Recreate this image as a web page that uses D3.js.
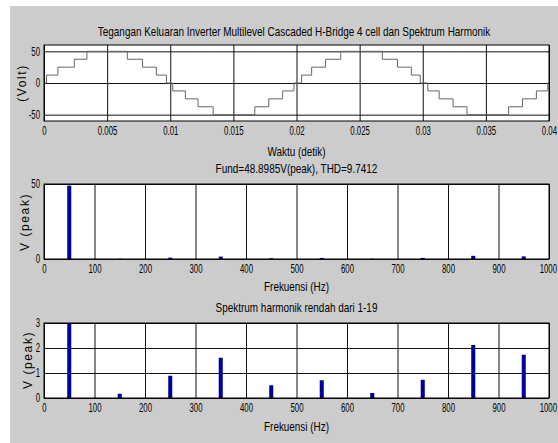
<!DOCTYPE html>
<html>
<head>
<meta charset="utf-8">
<script src="https://cdn.jsdelivr.net/npm/d3@7"></script>
<style>
  body { margin: 0; background: #fff; }
  svg { display: block; }
  text { font-family: "Liberation Sans", Arial, sans-serif; fill: #000; }
  .ylab { font-size: 12px; letter-spacing: 1.6px; }
  .ttl { font-size: 13px; }
</style>
</head>
<body>
<div id="chart"></div>
<script>
// output voltage of the 4-cell cascaded H-bridge (step corners)
const WAVE_TIME = [0, 0.0002, 0.0011, 0.0024, 0.0034, 0.0066, 0.0078, 0.0089, 0.0097,
  0.0102, 0.0112, 0.0122, 0.0134, 0.0167, 0.0178, 0.0189, 0.0198,
  0.0204, 0.0212, 0.0223, 0.0235, 0.0268, 0.0280, 0.0291, 0.0298,
  0.0304, 0.0313, 0.0324, 0.0335, 0.0368, 0.0379, 0.0390, 0.0399, 0.04];
const WAVE_VOLT = [0, 12.5, 25, 37.5, 50, 37.5, 25, 12.5, 0,
  -12.5, -25, -37.5, -50, -37.5, -25, -12.5, 0,
  12.5, 25, 37.5, 50, 37.5, 25, 12.5, 0,
  -12.5, -25, -37.5, -50, -37.5, -25, -12.5, 0, 0];
const TIME_TICKS = [0, 0.005, 0.01, 0.015, 0.02, 0.025, 0.03, 0.035, 0.04];
const VOLT_TICKS = [-50, 0, 50];

// harmonic spectrum
const HARM_FREQ = [50, 150, 250, 350, 450, 550, 650, 750, 850, 950];
const HARM_AMP = [48.8985, 0.17, 0.89, 1.61, 0.51, 0.71, 0.2, 0.73, 2.12, 1.73];
const FREQ_TICKS = [0, 100, 200, 300, 400, 500, 600, 700, 800, 900, 1000];
const SPEC_TICKS = [0, 50];
const LOW_TICKS = [0, 1, 2, 3];

const W = 558, H = 443;
const LEFT = 44, RIGHT = 549;
const NARROW = 0.65; // the original tick font is a condensed one

const svg = d3.select("#chart").append("svg").attr("width", W).attr("height", H);
svg.append("rect").attr("x", 10).attr("y", 6).attr("width", W - 10).attr("height", H - 6).attr("fill", "#cccccc");

const x = d3.scaleLinear().domain([0, 0.04]).range([LEFT, RIGHT]);
const xf = d3.scaleLinear().domain([0, 1000]).range([LEFT, RIGHT]);

function panel(id, top, bottom, xs, ydom, xticks, yticks) {
  const y = d3.scaleLinear().domain(ydom).range([bottom, top]);
  const g = svg.append("g");
  g.append("rect").attr("x", LEFT).attr("y", top).attr("width", RIGHT - LEFT).attr("height", bottom - top).attr("fill", "#fff");
  g.append("clipPath").attr("id", id).append("rect")
    .attr("x", LEFT).attr("y", top).attr("width", RIGHT - LEFT).attr("height", bottom - top);

  // grid
  g.append("g").attr("transform", `translate(0,${bottom})`)
    .call(d3.axisBottom(xs).tickValues(xticks).tickSize(-(bottom - top)).tickFormat(""))
    .call((a) => a.select(".domain").remove())
    .selectAll("line").attr("stroke", "#111");
  g.append("g").attr("transform", `translate(${LEFT},0)`)
    .call(d3.axisLeft(y).tickValues(yticks).tickSize(-(RIGHT - LEFT)).tickFormat(""))
    .call((a) => a.select(".domain").remove())
    .selectAll("line").attr("stroke", "#111");

  // tick labels, squeezed horizontally
  const xl = g.append("g").attr("transform", `translate(0,${bottom})`)
    .call(d3.axisBottom(xs).tickValues(xticks).tickSize(0).tickPadding(5).tickFormat((d) => String(d)))
    .call((a) => a.select(".domain").remove());
  xl.selectAll("text").style("font-size", "12px").attr("transform", `scale(${NARROW},1)`);
  xl.selectAll("text").filter((d, i, n) => i === n.length - 1)
    .attr("text-anchor", "end").attr("x", 7.5 / NARROW);
  g.append("g").attr("transform", `translate(${LEFT},0)`)
    .call(d3.axisLeft(y).tickValues(yticks).tickSize(0).tickPadding(4).tickFormat((d) => String(d)))
    .call((a) => a.select(".domain").remove())
    .selectAll("text").style("font-size", "12px")
    .attr("x", -4 / NARROW).attr("transform", `scale(${NARROW},1)`);

  const plot = g.append("g").attr("clip-path", `url(#${id})`);
  const frame = () => g.append("rect").attr("x", LEFT).attr("y", top).attr("width", RIGHT - LEFT)
    .attr("height", bottom - top).attr("fill", "none").attr("stroke", "#000");
  return { y, plot, frame };
}

// top: time waveform
const p1 = panel("c1", 45, 121, x, [-60, 60], TIME_TICKS, VOLT_TICKS);
const wave = WAVE_TIME.map((t, i) => [t, WAVE_VOLT[i]]);
p1.plot.append("path")
  .attr("d", d3.line().x((d) => x(d[0])).y((d) => p1.y(d[1])).curve(d3.curveStepAfter)(wave))
  .attr("fill", "none").attr("stroke", "#666").attr("stroke-width", 1);
p1.frame();

// middle: full spectrum
const p2 = panel("c2", 184, 259, xf, [0, 50], FREQ_TICKS, SPEC_TICKS);
// bottom: low-order harmonics
const p3 = panel("c3", 323, 398, xf, [0, 3], FREQ_TICKS, LOW_TICKS);

[p2, p3].forEach((p) => {
  p.plot.selectAll("rect.bar").data(HARM_FREQ).join("rect").attr("class", "bar")
    .attr("x", (d) => xf(d - 4))
    .attr("width", (d) => xf(d + 4) - xf(d - 4))
    .attr("y", (d, i) => p.y(HARM_AMP[i]))
    .attr("height", (d, i) => p.y(0) - p.y(HARM_AMP[i]))
    .attr("fill", "#000099");
  p.frame();
});

// texts: squeeze each one to the width it has in the original
const mid = (LEFT + RIGHT) / 2;
function label(txt, cx, cy, len) {
  const g = svg.append("g").attr("transform", `translate(${cx},${cy})`);
  const t = g.append("text").attr("class", "ttl")
    .attr("text-anchor", "middle").attr("dominant-baseline", "central").text(txt);
  const natural = t.node().getComputedTextLength();
  t.attr("transform", `scale(${len / natural},1)`);
}
label("Tegangan Keluaran Inverter Multilevel Cascaded H-Bridge 4 cell dan Spektrum Harmonik", 294, 32, 393);
label("Waktu (detik)", mid, 152, 58);
label("Fund=48.8985V(peak), THD=9.7412", mid, 169, 162);
label("Frekuensi (Hz)", mid, 287, 65);
label("Spektrum harmonik rendah dari 1-19", mid, 308, 162);
label("Frekuensi (Hz)", mid, 427, 65);

function ylabel(txt, cx, cy) {
  svg.append("text").attr("class", "ylab").attr("transform", `translate(${cx},${cy}) rotate(-90)`)
    .attr("text-anchor", "middle").attr("dominant-baseline", "central").text(txt);
}
ylabel("(Volt)", 22, 83);
ylabel("V (peak)", 25, 222);
ylabel("V (peak)", 28, 360);
</script>
</body>
</html>
